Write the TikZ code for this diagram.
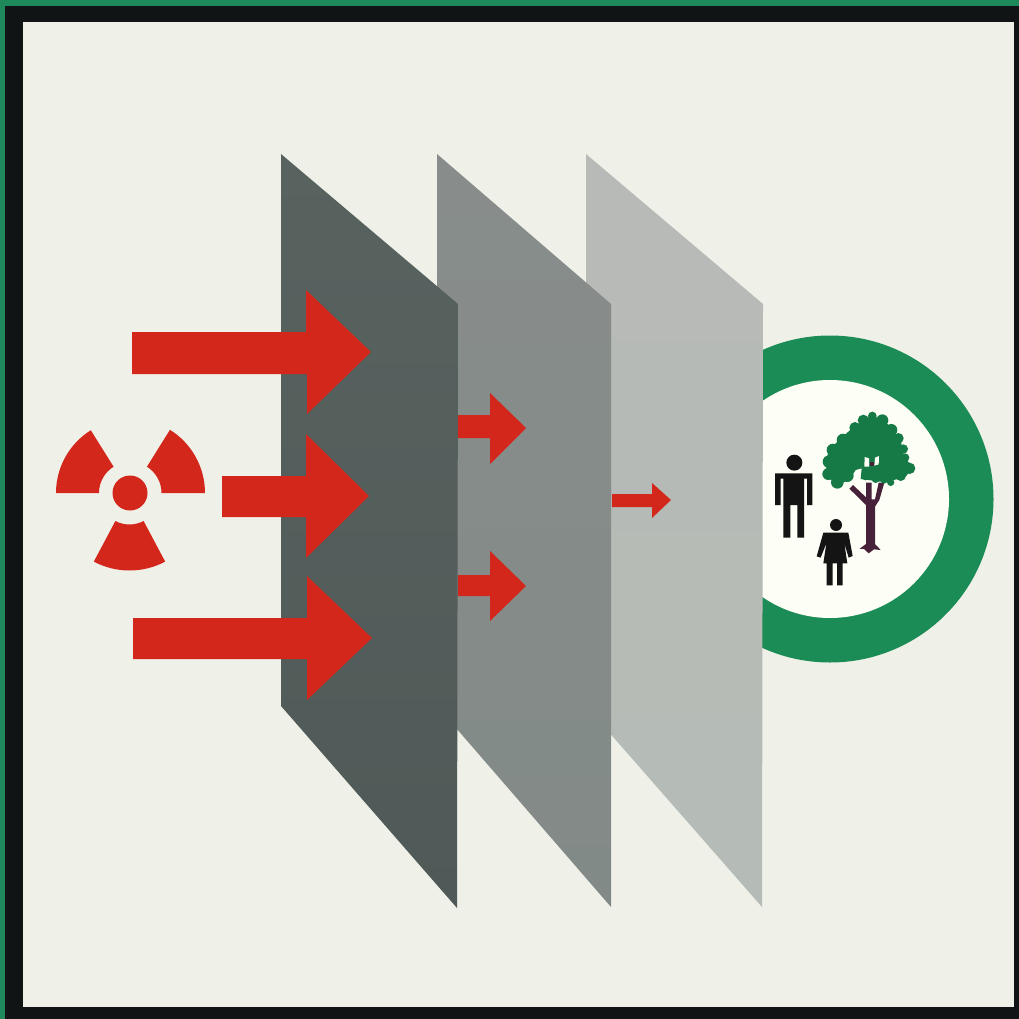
\documentclass[tikz,border=0pt]{standalone}
\definecolor{paper}{HTML}{EFF1E9}
\definecolor{framek}{HTML}{101415}
\definecolor{edgegreen}{HTML}{1E8A5C}
\definecolor{ringgreen}{HTML}{1B8C55}
\definecolor{treegreen}{HTML}{157A45}
\definecolor{bark}{HTML}{47203A}
\definecolor{hazard}{HTML}{D3271C}
\definecolor{inner}{HTML}{FDFEF6}
\definecolor{pa}{HTML}{58625F}
\definecolor{pb}{HTML}{687170}
\definecolor{pc}{HTML}{4F5957}
\definecolor{qa}{HTML}{888D8B}
\definecolor{qb}{HTML}{999E9B}
\definecolor{qc}{HTML}{828A87}
\definecolor{ra}{HTML}{B7BAB6}
\definecolor{rb}{HTML}{C2C6C1}
\definecolor{rc}{HTML}{B5BBB6}
\tikzset{
  redshape/.style={fill=hazard,draw=none},
  figure/.style={fill=black!92,draw=none},
  canopy/.style={fill=treegreen,draw=none},
}
\begin{document}
\begin{tikzpicture}[x=1pt,y=1pt,yscale=-1]
\useasboundingbox (0,0) rectangle (1019,1019);
\fill[framek] (0,0) rectangle (1019,1019);
\fill[edgegreen] (0,0) rectangle (1019,6);
\fill[edgegreen] (0,0) rectangle (5,1019);
\fill[paper] (23,22) rectangle (1014,1007);
% ring behind the panels
\fill[ringgreen] (830,499) circle[radius=163.5];
\fill[inner] (830,499) circle[radius=119];
% panels
\shade[top color=ra,middle color=rb,bottom color=rc] (586,154) -- (763,304) -- (762,907) -- (586,706) -- cycle;
\shade[top color=qa,middle color=qb,bottom color=qc] (437,154) -- (611,304) -- (611,907) -- (437,706) -- cycle;
\shade[top color=pa,middle color=pb,bottom color=pc] (281,154) -- (458,304) -- (457,908) -- (281,706) -- cycle;
% large arrows
\fill[redshape] (132,332) -- (306,332) -- (306,290) -- (371,352) -- (307,414) -- (307,374) -- (132,374) -- cycle;
\fill[redshape] (222,476) -- (306,476) -- (306,434) -- (369,496) -- (306,558) -- (306,517) -- (222,517) -- cycle;
\fill[redshape] (133,618) -- (307,618) -- (307,576) -- (372,638) -- (307,700) -- (307,659) -- (133,659) -- cycle;
% small arrows
\fill[redshape] (458,415) -- (490,415) -- (490,393) -- (526,428) -- (490,464) -- (490,438) -- (458,438) -- cycle;
\fill[redshape] (458,575) -- (490,575) -- (490,551) -- (526,586) -- (490,621) -- (490,596) -- (458,596) -- cycle;
\fill[redshape] (612,494) -- (652,494) -- (652,483) -- (671,500) -- (652,518) -- (652,507) -- (612,507) -- cycle;
% radiation symbol
\fill[redshape] (130,493) circle[radius=17.5];
\fill[redshape] (56,493) arc[start angle=180,end angle=238,radius=74] -- ([shift={(238:31)}]130,493) arc[start angle=238,end angle=180,radius=31] -- cycle;
\fill[redshape] ([shift={(302:74.5)}]130.5,493) arc[start angle=302,end angle=360,radius=74.5] -- ([shift={(0:31)}]130.5,493) arc[start angle=360,end angle=302,radius=31] -- cycle;
\fill[redshape] ([shift={(62:76)}]129.5,494.5) arc[start angle=62,end angle=118,radius=76] -- ([shift={(118:30)}]129.5,494.5) arc[start angle=118,end angle=62,radius=30] -- cycle;
% figures and trunk, in crop coordinates
\begin{scope}[shift={(760,390)},scale=1/3]
  % man
  \fill[figure] (103,218) circle[radius=24];
  \fill[figure] (45,250) -- (157,250) -- (157,345) -- (141,345) -- (141,266) -- (132,266) -- (132,443) -- (112,443) -- (112,345) -- (91,345) -- (91,443) -- (70,443) -- (70,266) -- (62,266) -- (62,345) -- (45,345) -- cycle;
  % woman
  \fill[figure] (228,405) circle[radius=18];
  \fill[figure] (190,428) -- (265,428) -- (278,498) -- (266,503) -- (253,460) -- (262,520) -- (248,520) -- (248,586) -- (231,586) -- (231,520) -- (218,520) -- (218,586) -- (200,586) -- (200,520) -- (190,520) -- (199,460) -- (182,503) -- (170,499) -- cycle;
  % trunk
  \fill[bark] (268,296) -- (279,285) -- (318,322) -- (318,278) -- (335,278) -- (335,328) -- (345,328) -- (356,278) -- (373,278) -- (358,330) -- (345,350) -- (345,462) -- (362,480) -- (342,478) -- (326,490) -- (312,477) -- (299,476) -- (318,462) -- (318,345) -- cycle;
\end{scope}
% canopy
\begin{scope}[shift={(819,405)},scale=1/3]
  \fill[canopy] (160,30) -- (105,65) -- (60,105) -- (30,135) -- (20,170) -- (25,215) -- (55,240) -- (90,225) -- (110,195) -- (128,190) -- (125,222) -- (200,232) -- (260,215) -- (285,185) -- (255,160) -- (245,105) -- (210,60) -- cycle;
  \foreach \cx/\cy/\r in {160/33/13,133/46/17,108/68/17,72/105/19,42/135/19,30/170/19,28/207/18,55/232/19,85/212/19,190/46/18,217/75/18,238/100/16,253/132/14,258/158/13,272/190/17,245/212/16,215/232/11,140/212/14,170/222/12,195/226/10,118/85/25,95/115/25}
    \fill[canopy] (\cx,\cy) circle[radius=\r];
  \fill[inner] (137,156) -- (150,160) -- (150,185) -- (136,185) -- cycle;
  \fill[inner] (168,158) -- (180,153) -- (179,178) -- (166,182) -- cycle;
  \fill[bark] (152,170) rectangle (165,184);
\end{scope}
\end{tikzpicture}
\end{document}
